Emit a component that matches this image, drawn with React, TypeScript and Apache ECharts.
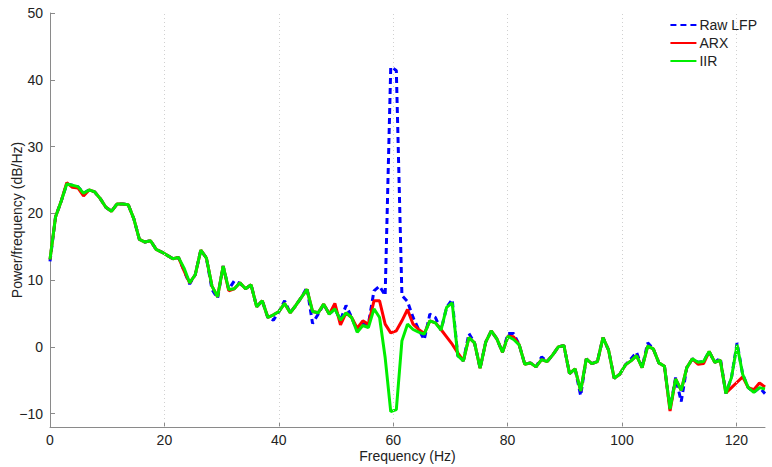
import React, { useEffect, useRef } from "react";
import * as echarts from "echarts";

// Frequency bin spacing (fs = 250 Hz, nfft = 256)
const binWidth = 250 / 256;

const iir = [
  13.1, 19.5, 21.8, 24.4, 24.2, 24.0, 23.0, 23.5, 23.2, 22.2,
  20.9, 20.3, 21.4, 21.4, 21.3, 19.2, 16.1, 15.7, 15.9, 14.6,
  14.2, 13.7, 13.2, 13.4, 11.8, 9.6, 10.8, 14.5, 13.3, 9.1,
  7.5, 12.1, 8.6, 8.7, 9.6, 8.7, 9.3, 6.0, 6.9, 4.4,
  4.8, 5.3, 6.5, 5.1, 6.2, 7.4, 8.6, 5.3, 5.1, 6.4,
  4.9, 5.7, 4.0, 5.1, 4.4, 2.2, 3.2, 2.9, 5.7, 4.4,
  -1.6, -9.7, -9.4, 0.9, 3.4, 2.6, 2.2, 1.9, 3.9, 3.6,
  2.5, 5.9, 6.6, -1.3, -2.1, 1.4, 0.6, -3.2, 0.7, 2.4,
  1.2, -0.8, 1.6, 1.1, 0.3, -2.6, -2.4, -3.0, -1.9, -2.2,
  -1.2, 0.0, 0.2, -4.0, -3.3, -6.6, -1.8, -2.5, -2.2, 1.4,
  -0.5, -4.7, -4.1, -2.7, -2.1, -1.3, -3.1, 0.1, -0.3, -2.4,
  -2.9, -9.3, -4.8, -6.5, -3.1, -1.8, -2.3, -2.2, -0.7, -2.3,
  -2.0, -7.0, -4.6, 0.3, -4.1, -6.1, -6.8, -6.1, -6.3,
];

const arx = [
  13.1, 19.5, 21.8, 24.6, 23.9, 23.8, 22.6, 23.5, 23.2, 22.2,
  20.9, 20.3, 21.4, 21.4, 21.3, 19.2, 16.1, 15.7, 15.9, 14.6,
  14.2, 13.7, 13.2, 13.4, 11.4, 9.6, 10.8, 14.5, 13.3, 9.1,
  7.5, 12.1, 8.4, 8.7, 9.6, 8.7, 9.3, 6.0, 6.9, 4.4,
  4.8, 5.3, 6.5, 5.1, 6.2, 7.4, 8.6, 5.3, 5.1, 6.4,
  4.9, 6.5, 3.3, 5.1, 4.4, 2.8, 3.9, 3.4, 6.9, 6.9,
  3.4, 2.1, 2.4, 3.9, 5.6, 3.4, 2.6, 2.0, 3.9, 3.6,
  2.6, 1.5, 0.4, -0.9, -2.1, 1.4, 0.6, -3.2, 0.7, 2.4,
  1.2, -0.8, 1.6, 1.5, 0.3, -2.6, -2.4, -3.0, -1.9, -2.2,
  -1.2, 0.0, 0.2, -4.0, -3.3, -6.6, -1.8, -2.5, -2.2, 1.4,
  -0.5, -4.7, -4.1, -2.7, -2.1, -1.3, -3.1, 0.1, -0.3, -2.4,
  -2.9, -9.6, -4.8, -6.5, -3.1, -1.8, -2.6, -2.5, -0.7, -2.3,
  -2.0, -6.9, -6.1, -5.3, -4.5, -6.1, -6.4, -5.4, -6.0,
];

const rawLfp = [
  12.8, 19.5, 21.8, 24.4, 24.2, 24.0, 23.0, 23.5, 23.2, 22.2,
  20.9, 20.3, 21.4, 21.4, 21.3, 19.2, 16.1, 15.7, 15.9, 14.6,
  14.2, 13.7, 13.2, 13.4, 11.4, 9.4, 10.8, 14.5, 13.3, 8.6,
  7.3, 12.1, 8.6, 9.9, 9.5, 8.7, 9.3, 6.0, 6.9, 4.4,
  4.0, 5.3, 6.9, 5.1, 6.2, 7.4, 8.9, 3.5, 4.9, 6.4,
  4.9, 5.7, 4.0, 6.2, 4.4, 2.4, 3.4, 3.4, 8.4, 9.1,
  7.7, 41.9, 41.4, 7.7, 6.8, 4.4, 2.6, 1.1, 4.9, 4.4,
  2.5, 5.9, 7.1, -1.3, -2.1, 2.0, 0.6, -3.2, 0.7, 2.4,
  1.2, -0.8, 2.0, 2.0, 0.3, -2.6, -2.4, -3.0, -1.5, -2.2,
  -1.2, 0.0, 0.2, -4.0, -3.3, -7.3, -1.8, -2.5, -2.2, 1.4,
  -0.5, -4.7, -4.1, -2.7, -1.8, -0.8, -3.1, 0.6, -0.3, -2.4,
  -2.9, -9.3, -4.6, -8.2, -3.1, -1.8, -2.3, -2.2, -0.7, -2.3,
  -1.7, -7.0, -4.6, 0.6, -4.1, -6.1, -6.8, -6.1, -7.0,
];

const xTicks = [0, 20, 40, 60, 80, 100, 120];
const yTicks = [-10, 0, 10, 20, 30, 40, 50];
const gridLinesX = [20, 40, 60, 80, 100, 120];

const FONT = "'Liberation Sans', Arial, Helvetica, sans-serif";

const pairs = (vals: number[]) => vals.map((v, i) => [i * binWidth, v]);

export default function App() {
  const ref = useRef<HTMLDivElement>(null);
  useEffect(() => {
    if (!ref.current) return;
    const chart = echarts.init(ref.current, undefined, { renderer: "svg" });
    chart.setOption({
      animation: false,
      backgroundColor: "#ffffff",
      textStyle: { fontFamily: FONT },
      grid: {
        left: 50,
        right: 7,
        top: 13,
        bottom: 40,
        containLabel: false,
        outerBoundsMode: "none",
      },
      legend: {
        orient: "vertical",
        right: 10,
        top: 13,
        itemWidth: 26,
        itemHeight: 14,
        itemGap: 4,
        data: ["Raw LFP", "ARX", "IIR"],
        itemStyle: { opacity: 0 },
        textStyle: { fontSize: 14, color: "#222", fontFamily: FONT, padding: [0, 0, 0, -2] },
      },
      xAxis: {
        type: "value",
        min: 0,
        max: 125,
        name: "Frequency (Hz)",
        nameLocation: "middle",
        nameGap: 22,
        nameMoveOverlap: false,
        nameTextStyle: { fontSize: 14, color: "#222", fontFamily: FONT, verticalAlign: "top" },
        axisLine: { show: true, onZero: false, lineStyle: { color: "#8a8a8a", width: 1 } },
        axisTick: { show: true, inside: true, length: 5, customValues: xTicks, lineStyle: { color: "#8a8a8a" } },
        axisLabel: { customValues: xTicks, fontSize: 14, color: "#222", margin: 6, fontFamily: FONT },
        splitLine: { show: false },
      },
      yAxis: {
        type: "value",
        min: -12,
        max: 50,
        name: "Power/frequency (dB/Hz)",
        nameLocation: "middle",
        nameGap: 26,
        nameMoveOverlap: false,
        nameTextStyle: { fontSize: 14, color: "#222", fontFamily: FONT },
        axisLine: { show: true, onZero: false, lineStyle: { color: "#8a8a8a", width: 1 } },
        axisTick: { show: true, inside: true, length: 5, customValues: yTicks, lineStyle: { color: "#8a8a8a" } },
        axisLabel: {
          customValues: yTicks,
          fontSize: 14,
          color: "#222",
          margin: 7,
          fontFamily: FONT,
          formatter: (v: number) => String(v).replace("-", "\u2212"),
        },
        splitLine: { show: false },
      },
      series: [
        {
          name: "grid",
          type: "line",
          data: [],
          silent: true,
          z: 1,
          markLine: {
            silent: true,
            symbol: ["none", "none"],
            label: { show: false },
            lineStyle: { color: "#d0d0d0", type: [1, 3], width: 1 },
            data: gridLinesX.map((v) => ({ xAxis: v })),
          },
        },
        {
          name: "Raw LFP",
          type: "line",
          data: pairs(rawLfp),
          showSymbol: false,
          symbol: "none",
          z: 2,
          color: "#0000ff",
          lineStyle: { color: "#0000ff", width: 3, type: [6, 4] },
        },
        {
          name: "ARX",
          type: "line",
          data: pairs(arx),
          showSymbol: false,
          symbol: "none",
          z: 3,
          color: "#ff0000",
          lineStyle: { color: "#ff0000", width: 3 },
        },
        {
          name: "IIR",
          type: "line",
          data: pairs(iir),
          showSymbol: false,
          symbol: "none",
          z: 4,
          color: "#00ee00",
          lineStyle: { color: "#00ee00", width: 3 },
        },
      ],
    });
    return () => chart.dispose();
  }, []);
  return (
    <div
      ref={ref}
      style={{ position: "absolute", left: 0, top: 0, width: 772, height: 467 }}
    />
  );
}
